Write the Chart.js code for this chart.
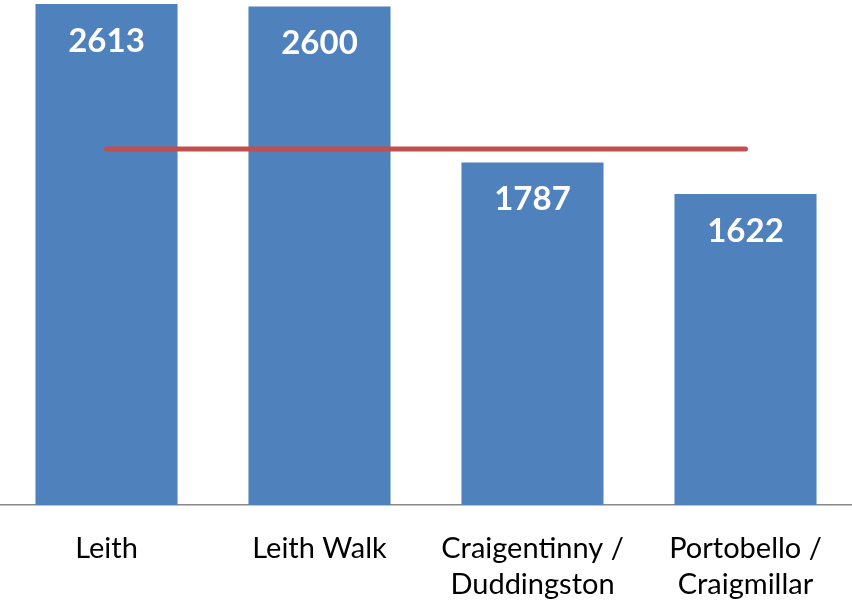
<!DOCTYPE html>
<html>
<head>
<meta charset="utf-8">
<script src="https://cdn.jsdelivr.net/npm/chart.js@4/dist/chart.umd.min.js"></script>
<style>
  html, body { margin: 0; padding: 0; background: #fff; }
  #wrap { width: 852px; height: 607px; }
</style>
</head>
<body>
<div id="wrap"><canvas id="chart"></canvas></div>
<script>
const areas = [['Leith'], ['Leith Walk'], ['Craigentinny /', 'Duddingston'], ['Portobello /', 'Craigmillar']];
const households = [2613, 2600, 1787, 1622];
const cityLevel = [1857, 1857, 1857, 1857];

// white numbers inside the top of each bar
const barLabels = {
    id: 'barLabels',
    afterDatasetsDraw(chart) {
        const ctx = chart.ctx;
        const meta = chart.getDatasetMeta(0);
        ctx.save();
        ctx.fillStyle = '#fff';
        ctx.font = 'bold 33px Lato';
        ctx.textAlign = 'center';
        ctx.textBaseline = 'middle';
        meta.data.forEach((bar, i) => {
            ctx.fillText(households[i], bar.x, bar.y + 37);
        });
        ctx.restore();
    }
};

new Chart(document.getElementById('chart').getContext('2d'), {
    data: {
        labels: areas,
        datasets: [{
            type: 'bar',
            data: households,
            backgroundColor: '#4F81BD',
            barPercentage: 0.667,
            categoryPercentage: 1,
            order: 1
        }, {
            type: 'line',
            data: cityLevel,
            borderColor: '#C0504D',
            borderWidth: 5,
            borderCapStyle: 'round',
            pointRadius: 0,
            order: 0
        }]
    },
    options: {
        responsive: true,
        maintainAspectRatio: false,
        animation: false,
        layout: { padding: 0 },
        plugins: { legend: { display: false }, tooltip: { enabled: false } },
        scales: {
            x: {
                grid: { display: false },
                border: { display: true, color: '#888', width: 1.5 },
                ticks: {
                    color: '#000',
                    font: { family: 'Lato', size: 29, lineHeight: 1.24 },
                    padding: 18,
                    maxRotation: 0,
                    autoSkip: false
                },
                afterFit: (scale) => { scale.height = 102; }
            },
            y: {
                display: false,
                min: 0,
                max: 2634
            }
        }
    },
    plugins: [barLabels]
});
</script>
</body>
</html>
